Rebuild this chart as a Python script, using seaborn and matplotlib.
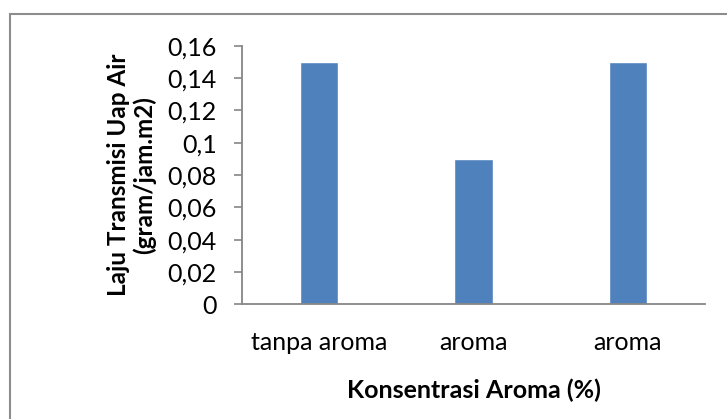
import matplotlib
matplotlib.use("Agg")
import matplotlib.pyplot as plt
from matplotlib.patches import Rectangle
from matplotlib.ticker import FuncFormatter
import seaborn as sns
import pandas as pd

# Data
group_ids = ["g1", "g2", "g3"]
tick_labels = ["tanpa aroma", "aroma", "aroma"]
values = [0.15, 0.09, 0.15]
y_ticks = [0, 0.02, 0.04, 0.06, 0.08, 0.10, 0.12, 0.14, 0.16]

df = pd.DataFrame({"kelompok": group_ids, "laju": values})

sns.set_theme(style="white")
plt.rcParams["font.family"] = ["Lato", "DejaVu Sans"]

fig = plt.figure(figsize=(7.27, 4.19), dpi=100)
ax = fig.add_axes([242 / 727, 1 - 304.3 / 419, (705 - 242) / 727, (304.3 - 45.7) / 419])

sns.barplot(data=df, x="kelompok", y="laju", color="#4F81BD", width=0.247,
            saturation=1, ax=ax)

ax.set_ylim(0, 0.16)
ax.set_xlim(-0.5, 2.5)
ax.set_yticks(y_ticks)
ax.yaxis.set_major_formatter(FuncFormatter(
    lambda v, _: "0" if v == 0 else (f"{v:.2f}".rstrip("0")).replace(".", ",")))
ax.set_xticks(range(len(tick_labels)))
ax.set_xticklabels(tick_labels)

for s in ["top", "right"]:
    ax.spines[s].set_visible(False)
for s in ["left", "bottom"]:
    ax.spines[s].set_color("#868686")
    ax.spines[s].set_linewidth(1.3)

ax.tick_params(axis="y", which="major", left=True, length=6, width=1.2,
               color="#868686", labelsize=18, pad=12, labelcolor="black")
ax.tick_params(axis="x", bottom=False, labelsize=18, pad=13, labelcolor="black")

ax.set_xlabel("Konsentrasi Aroma (%)", fontsize=18, fontweight="bold",
              labelpad=18, color="black")
ax.set_ylabel("Laju Transmisi Uap Air\n(gram/jam.m2)", fontsize=17.5,
              fontweight="bold", labelpad=8, color="black", linespacing=1.15)

# Outer chart frame
fig.patches.append(Rectangle((10 / 727, -0.05), 1.2, 1 - 14 / 419 + 0.05,
                             transform=fig.transFigure, fill=False,
                             edgecolor="#8c8c8c", linewidth=1.5))

fig.savefig("out.png", dpi=100)
